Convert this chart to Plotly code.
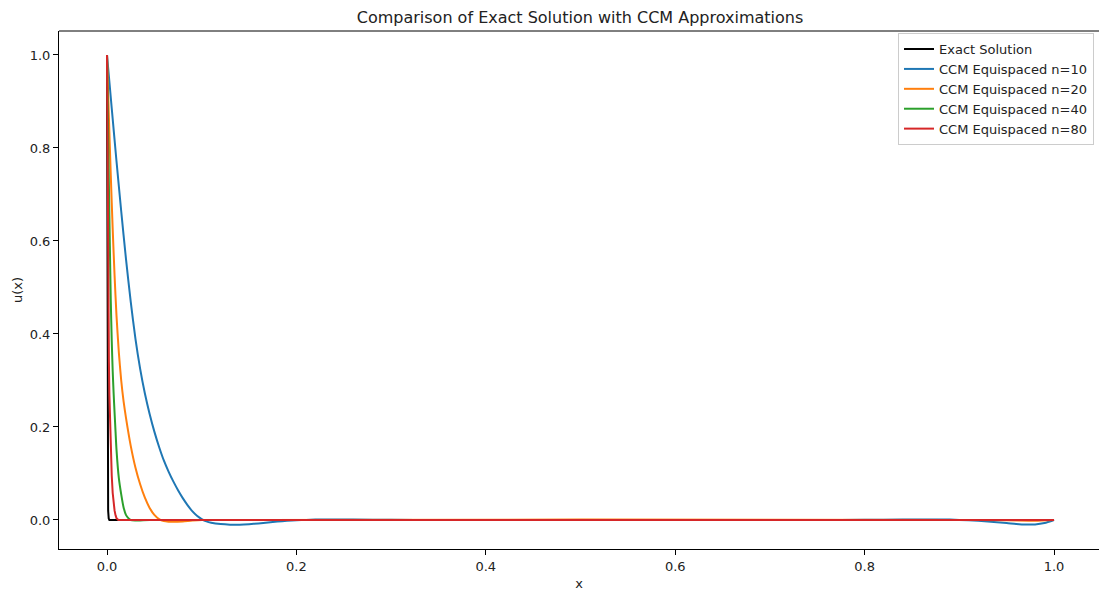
import plotly.graph_objects as go

# ---- data ----
exact_x = [0, 0.0001, 0.0002, 0.0003, 0.0005, 0.0008, 0.0012, 0.0018, 0.0025, 1.0]
exact_y = [1.0, 0.75, 0.55, 0.41, 0.22, 0.08, 0.02, 0.003, 0.0, 0.0]

n10_x = [0, 0.005, 0.01, 0.015, 0.02, 0.025, 0.03, 0.035, 0.04, 0.045, 0.05, 0.055,
         0.06, 0.065, 0.07, 0.075, 0.08, 0.085, 0.09, 0.095, 0.10, 0.105, 0.11, 0.12,
         0.13, 0.14, 0.15, 0.16, 0.17, 0.18, 0.19, 0.20, 0.22, 0.24, 0.26, 0.30, 0.35,
         0.40, 0.50, 0.60, 0.70, 0.75, 0.80, 0.84, 0.87, 0.89, 0.91, 0.93, 0.95, 0.96,
         0.97, 0.98, 0.99, 1.0]
n10_y = [1.0, 0.885, 0.772, 0.664, 0.562, 0.47, 0.39, 0.325, 0.272, 0.228, 0.19, 0.157,
         0.128, 0.104, 0.083, 0.064, 0.047, 0.032, 0.019, 0.009, 0.002, -0.003, -0.0058, -0.0088,
         -0.0100, -0.0100, -0.009, -0.0075, -0.0055, -0.0035, -0.0018, -0.0005, 0.0008, 0.0012, 0.001, 0.0004, 0.0,
         0.0, 0.0, 0.0, 0.0, 0.0, 0.0003, 0.0009, 0.0012, 0.0008, -0.0005, -0.003, -0.0065, -0.0085,
         -0.0098, -0.0095, -0.0065, 0.0]

n20_x = [0, 0.002, 0.004, 0.006, 0.008, 0.01, 0.0125, 0.015, 0.0175, 0.02, 0.025, 0.03,
         0.035, 0.04, 0.045, 0.05, 0.055, 0.06, 0.065, 0.07, 0.08, 0.09, 0.10, 0.90,
         0.95, 0.98, 1.0]
n20_y = [1.0, 0.865, 0.74, 0.625, 0.525, 0.44, 0.36, 0.30, 0.255, 0.22, 0.16, 0.113,
         0.077, 0.048, 0.026, 0.011, 0.002, -0.0025, -0.0038, -0.004, -0.003, -0.0012, 0.0, 0.0,
         -0.0005, -0.0015, 0.0]

n40_x = [0, 0.001, 0.002, 0.003, 0.004, 0.005, 0.006, 0.007, 0.008, 0.009, 0.010, 0.0125,
         0.015, 0.0175, 0.02, 0.0225, 0.025, 0.03, 0.035, 0.045, 1.0]
n40_y = [1.0, 0.86, 0.72, 0.59, 0.47, 0.385, 0.32, 0.272, 0.23, 0.19, 0.152, 0.09,
         0.055, 0.027, 0.011, 0.004, 0.0, -0.001, -0.001, 0.0, 0.0]

n80_x = [0, 0.0005, 0.001, 0.0015, 0.002, 0.0025, 0.003, 0.004, 0.005, 0.006, 0.007,
         0.008, 0.009, 0.010, 0.012, 1.0]
n80_y = [1.0, 0.78, 0.56, 0.42, 0.34, 0.27, 0.225, 0.15, 0.095, 0.058, 0.035,
         0.02, 0.01, 0.004, 0.0, 0.0]

series = [
    ("Exact Solution", exact_x, exact_y, "#000000", "linear"),
    ("CCM Equispaced n=10", n10_x, n10_y, "#1f77b4", "spline"),
    ("CCM Equispaced n=20", n20_x, n20_y, "#ff7f0e", "spline"),
    ("CCM Equispaced n=40", n40_x, n40_y, "#2ca02c", "spline"),
    ("CCM Equispaced n=80", n80_x, n80_y, "#d62728", "linear"),
]

x_ticks = [0.0, 0.2, 0.4, 0.6, 0.8, 1.0]
y_ticks = [0.0, 0.2, 0.4, 0.6, 0.8, 1.0]

FONT = "DejaVu Sans"

fig = go.Figure()
for name, xs, ys, col, shp in series:
    line = dict(color=col, width=2, shape=shp)
    if shp == "spline":
        line["smoothing"] = 0.6
    fig.add_trace(go.Scatter(x=xs, y=ys, mode="lines", name=name, line=line))

axis_common = dict(showgrid=False, zeroline=False, showline=True, linecolor="#000000",
                   linewidth=1, ticks="outside", ticklen=5, tickwidth=1, tickcolor="#000000",
                   tickfont=dict(family=FONT, size=13, color="#222222"), tickformat=".1f")

fig.update_layout(
    width=1099, height=592,
    margin=dict(l=59, r=0, t=31, b=43),
    paper_bgcolor="white", plot_bgcolor="white",
    font=dict(family=FONT, size=13, color="#222222"),
    title=dict(text="Comparison of Exact Solution with CCM Approximations",
               x=(580 - 59) / 1040, xref="paper", xanchor="center",
               y=1 - 17 / 592, yref="container", yanchor="middle",
               font=dict(family=FONT, size=16, color="#222222")),
    xaxis=dict(range=[-0.0507, 1.0475], tickvals=x_ticks,
               title=dict(text="x", standoff=6, font=dict(family=FONT, size=13)),
               **axis_common),
    yaxis=dict(range=[-0.0624, 1.0516], tickvals=y_ticks,
               title=dict(text="u(x)", standoff=4, font=dict(family=FONT, size=13)),
               **axis_common),
    legend=dict(x=0.9952, xanchor="right", y=0.996, yanchor="top",
                bgcolor="rgba(255,255,255,0.8)", bordercolor="#cccccc", borderwidth=1,
                font=dict(family=FONT, size=13, color="#222222"),
                tracegroupgap=0, itemwidth=30),
    showlegend=True,
)

# top spine (matplotlib box)
fig.add_shape(type="line", xref="paper", yref="paper", x0=0, x1=1, y0=1, y1=1,
              line=dict(color="#000000", width=1))

fig.write_html("out.html")
